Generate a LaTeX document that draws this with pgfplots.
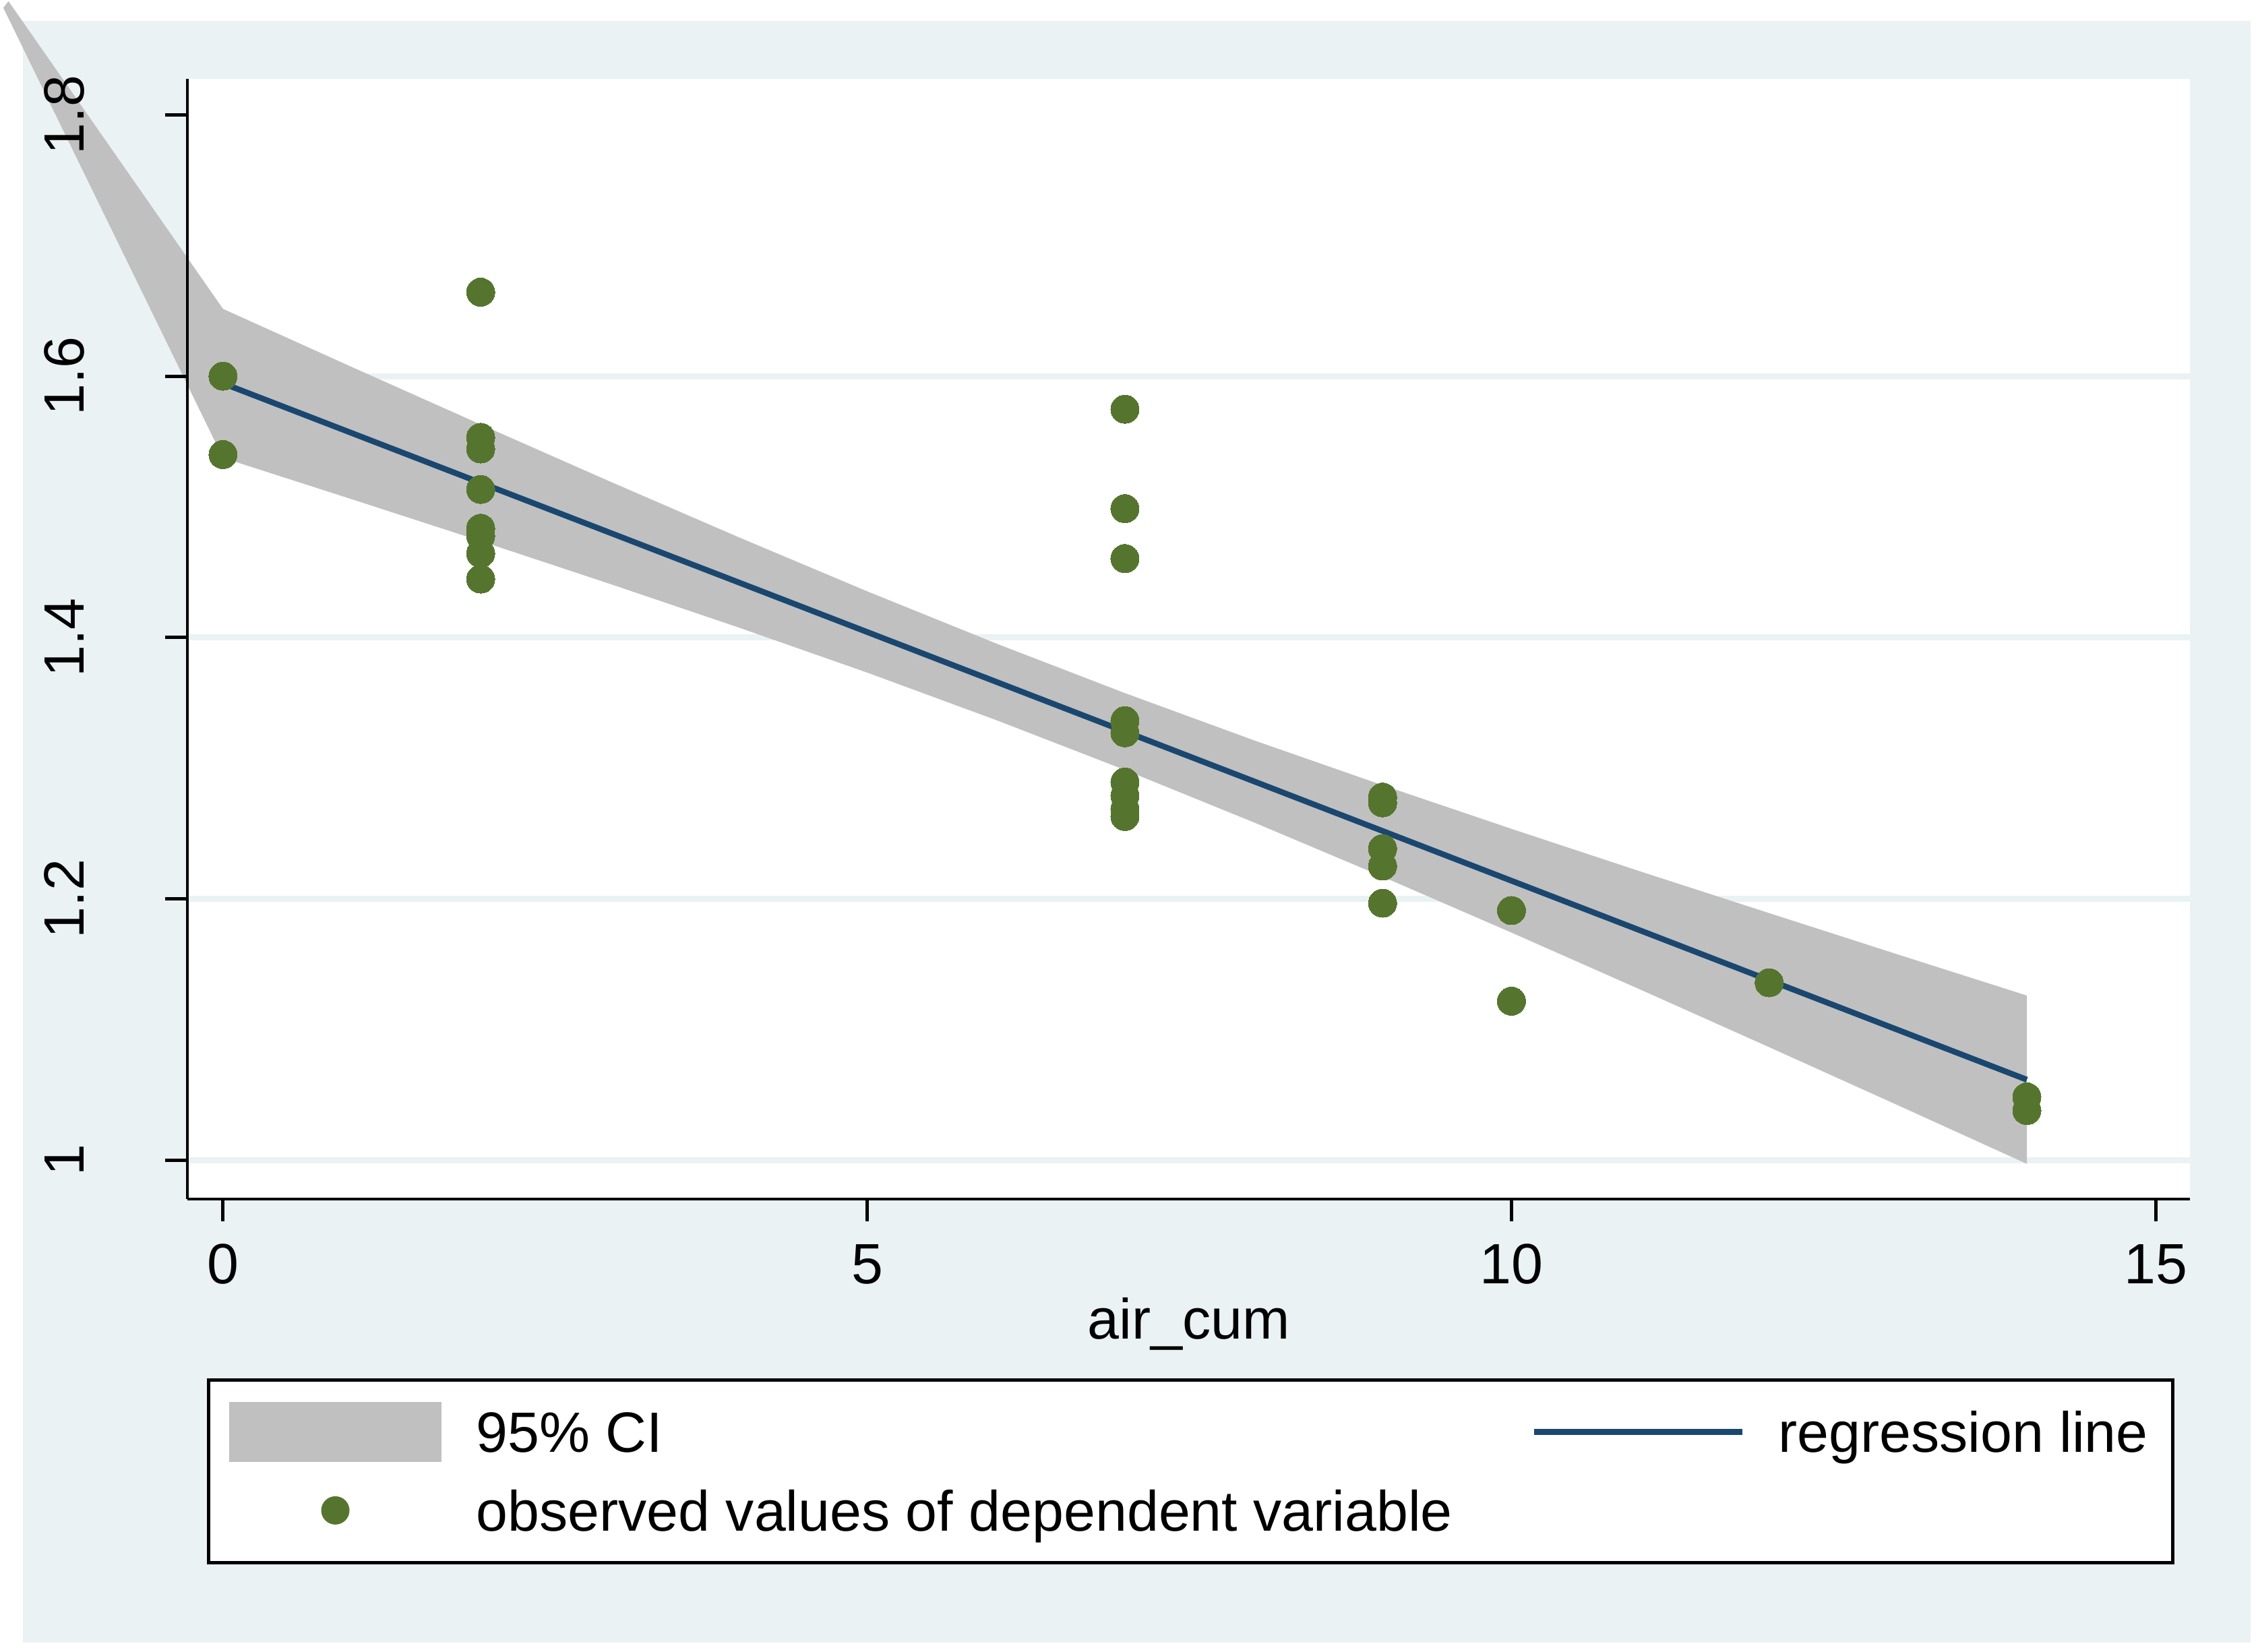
\documentclass[border=0pt]{standalone}
\usepackage{fontspec}
\setmainfont{Liberation Sans}
\usepackage{pgfplots}
\pgfplotsset{compat=1.18}
\definecolor{bgc}{RGB}{234,242,243}
\definecolor{bandc}{RGB}{192,192,192}
\definecolor{linec}{RGB}{26,71,111}
\definecolor{ptc}{RGB}{85,117,47}
\newcommand{\fs}{\fontsize{11.85}{14}\selectfont}
\begin{document}
\begin{tikzpicture}
\fill[bgc] (4.8pt,-4.35pt) rectangle (469.2pt,-342.45pt);
\begin{axis}[
  at={(39.09pt,-249.99pt)}, anchor=south west,
  scale only axis, width=417.51pt, height=233.49pt,
  xmin=-0.2758, xmax=15.265, ymin=0.97026, ymax=1.82737,
  clip=false, axis on top,
  axis background/.style={fill=white},
  axis x line*=bottom, axis y line*=left,
  axis line style={black, line width=0.6pt},
  xtick={0,5,10,15}, ytick={1,1.2,1.4,1.6,1.8},
  tick align=outside, major tick length=4.7pt,
  tick style={black, line width=0.7pt},
  /pgf/number format/assume math mode=true,
  ticklabel style={font=\fs},
  xticklabel style={anchor=base, yshift=-13.03pt},
  yticklabel style={xshift=-16.96pt, rotate=90, anchor=base},
  xlabel={air\_cum},
  xlabel style={font=\fs, at={(axis description cs:0.5,0)}, anchor=base, yshift=-29.13pt},
  legend columns=2, legend cell align=left,
  legend style={at={(axis description cs:0.00984,-0.1602)}, anchor=north west,
    draw=black, line width=0.65pt, fill=white, inner xsep=0pt, inner ysep=2.7pt,
    column sep=0pt, row sep=0pt, font=\fs,
    nodes={inner sep=0pt, text height=8.48pt, text depth=0pt}},
]
% grid lines (behind the band)
\addplot[draw=bgc, line width=1.27pt, forget plot] coordinates {(-0.2758,1.0) (15.265,1.0)};
\addplot[draw=bgc, line width=1.27pt, forget plot] coordinates {(-0.2758,1.2) (15.265,1.2)};
\addplot[draw=bgc, line width=1.27pt, forget plot] coordinates {(-0.2758,1.4) (15.265,1.4)};
\addplot[draw=bgc, line width=1.27pt, forget plot] coordinates {(-0.2758,1.6) (15.265,1.6)};
% 95% CI band
\addplot[fill=bandc, draw=none,
  legend image code/.code={\path[draw=none,fill=none] (0pt,-8.175pt) rectangle (55.8pt,8.175pt);
    \fill[bandc, draw=none] (4.2pt,-6.26pt) rectangle (48.6pt,6.26pt);}]
 coordinates {(-1.665,1.887) (0,1.6515) (1,1.6070) (2,1.5630) (3,1.5195) (4,1.4768)
  (5,1.4353) (6,1.3954) (7,1.3574) (8,1.3213) (9,1.2869) (10,1.2535) (11,1.2209)
  (12,1.1890) (13,1.1573) (14,1.1259) (14,0.9971) (13,1.0419) (12,1.0864) (11,1.1305)
  (10,1.1741) (9,1.2169) (8,1.2585) (7,1.2986) (6,1.3368) (5,1.3731) (4,1.4077)
  (3,1.4411) (2,1.4738) (1,1.5058) (0,1.5375) (-1.705,1.882)} -- cycle;
\addlegendentry{\makebox[203.4pt][l]{95\% CI}}
% regression line
\addplot[draw=linec, line width=1.2pt,
  legend image code/.code={\path[draw=none,fill=none] (0pt,-8.175pt) rectangle (68.1pt,8.175pt);
    \draw[linec, line width=1.25pt, fill=none] (17.1pt,0pt) -- (60.6pt,0pt);}]
 coordinates {(0,1.5945) (14,1.0615)};
\addlegendentry{\makebox[82.2pt][l]{regression line}}
% observed values
\addplot[only marks, draw=ptc, fill=ptc, mark=*, mark size=2.95pt,
  mark options={fill=ptc, draw=ptc, line width=0pt},
  legend image code/.code={\path[draw=none,fill=none] (0pt,-8.175pt) rectangle (55.8pt,8.175pt);
    \fill[ptc, draw=none] (26.4pt,0pt) circle (2.95pt);}]
 coordinates {
  (0,1.600) (0,1.540)
  (2,1.6643) (2,1.5532) (2,1.5443) (2,1.5133) (2,1.4836) (2,1.4777) (2,1.4643) (2,1.4447)
  (7,1.5747) (7,1.4986) (7,1.4604) (7,1.3363) (7,1.3270) (7,1.2893) (7,1.2790) (7,1.2687) (7,1.2630)
  (9,1.2778) (9,1.2734) (9,1.2384) (9,1.2250) (9,1.1966)
  (10,1.1910) (10,1.1216)
  (12,1.1357)
  (14,1.0483) (14,1.0379)};
\addlegendentry{\makebox[203.4pt][l]{observed values of dependent variable}}
\end{axis}
\pgfresetboundingbox
\path[use as bounding box] (0pt,0pt) rectangle (470.4pt,-344.34pt);
\end{tikzpicture}
\end{document}
